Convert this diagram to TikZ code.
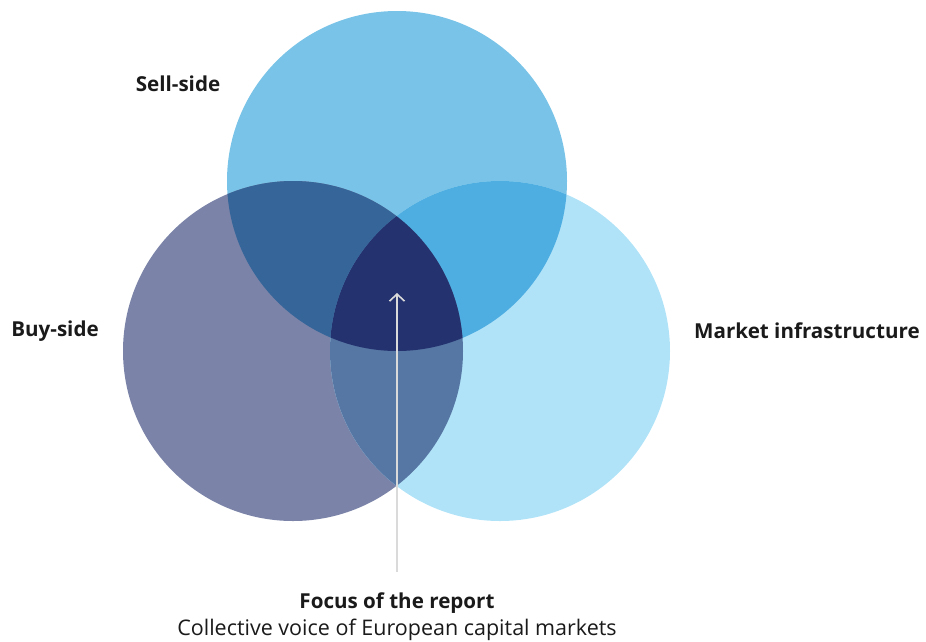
\documentclass[tikz,border=0pt]{standalone}
\usepackage{fontspec}
\setmainfont{Open Sans}
\usetikzlibrary{arrows.meta}
\definecolor{sellcol}{HTML}{78C3E7}
\definecolor{buycol}{HTML}{7B84A8}
\definecolor{infracol}{HTML}{B1E3F8}
\definecolor{sellbuycol}{HTML}{36659A}
\definecolor{sellinfracol}{HTML}{4EAEE1}
\definecolor{buyinfracol}{HTML}{5676A4}
\definecolor{focuscol}{HTML}{24336F}
\definecolor{textcol}{HTML}{1A1A1A}
\definecolor{arrowcol}{HTML}{DADADA}
\tikzset{
  label/.style={text=textcol, font=\fontsize{20.6}{24}\selectfont\bfseries, inner sep=0pt},
  caption/.style={text=textcol, font=\fontsize{21.5}{25}\selectfont, inner sep=0pt}
}
\begin{document}
\begin{tikzpicture}[x=1pt,y=-1pt]
    \useasboundingbox (0,0) rectangle (926,641);
    % circles
    \fill[sellcol] (397,181) circle[radius=170pt];
    \fill[buycol] (293,351) circle[radius=170pt];
    \fill[infracol] (500,351) circle[radius=170pt];
    % overlaps
    \begin{scope}
      \clip (397,181) circle[radius=170pt];
      \fill[sellbuycol] (293,351) circle[radius=170pt];
    \end{scope}
    \begin{scope}
      \clip (397,181) circle[radius=170pt];
      \fill[sellinfracol] (500,351) circle[radius=170pt];
    \end{scope}
    \begin{scope}
      \clip (293,351) circle[radius=170pt];
      \fill[buyinfracol] (500,351) circle[radius=170pt];
    \end{scope}
    \begin{scope}
      \clip (397,181) circle[radius=170pt];
      \clip (293,351) circle[radius=170pt];
      \fill[focuscol] (500,351) circle[radius=170pt];
    \end{scope}
    % labels
    \node[label] (sell) at (178,84) {Sell-side};
    \node[label] (buy) at (55,331) {Buy-side};
    \node[label, anchor=west] (infra) at (694,331) {Market infrastructure};
    \node[label] (focus) at (397,603) {Focus of the report};
    \node[caption] (voice) at (397,630) {Collective voice of European capital markets};
    % arrow
    \coordinate (tail) at (397,572);
    \coordinate (head) at (397,293);
    \draw[arrowcol, line width=1.6pt, -{Straight Barb[length=7pt, width=15pt, line width=1.6pt]}] (tail) -- (head);
\end{tikzpicture}
\end{document}
